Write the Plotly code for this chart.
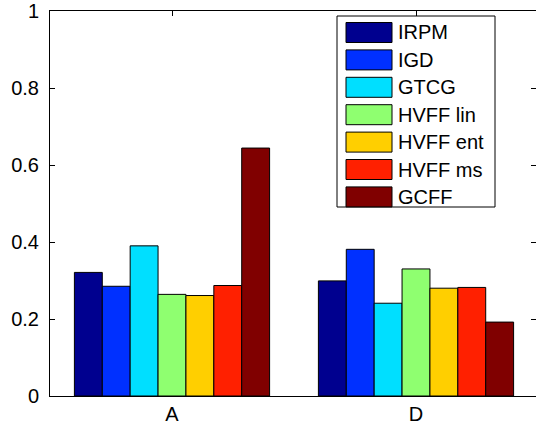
import plotly.graph_objects as go

categories = ["A", "D"]
series_names = ["IRPM", "IGD", "GTCG", "HVFF lin", "HVFF ent", "HVFF ms", "GCFF"]
values_A = [0.321, 0.285, 0.390, 0.264, 0.261, 0.287, 0.644]
values_D = [0.299, 0.381, 0.241, 0.330, 0.280, 0.282, 0.192]
colors = ["#00008F", "#0030FF", "#00DFFF", "#8FFF70", "#FFCF00", "#FF2000", "#800000"]
y_ticks = [0, 0.2, 0.4, 0.6, 0.8, 1]
y_tick_labels = ["0", "0.2", "0.4", "0.6", "0.8", "1"]

W, H = 536, 425
ML, MR, MT, MB = 50, 0, 11, 29
PW, PH = W - ML - MR, H - MT - MB
FONT = "Liberation Sans, Arial, Helvetica, sans-serif"

fig = go.Figure()
for i, name in enumerate(series_names):
    fig.add_trace(go.Bar(
        x=categories, y=[values_A[i], values_D[i]], name=name,
        marker=dict(color=colors[i], line=dict(color="black", width=1)),
        showlegend=False,
    ))

# custom MATLAB-style legend (pixel -> paper helpers)
def px(x):
    return (x - ML) / PW

def py(y):
    return 1 - (y - MT) / PH

shapes = [dict(type="rect", xref="paper", yref="paper",
               x0=px(337), x1=px(495), y0=py(16), y1=py(207),
               line=dict(color="black", width=1), fillcolor="white", layer="above")]
annotations = []
for i, name in enumerate(series_names):
    cy = 32.5 + i * 27.4
    shapes.append(dict(type="rect", xref="paper", yref="paper",
                       x0=px(346), x1=px(392), y0=py(cy + 10), y1=py(cy - 10),
                       line=dict(color="black", width=1), fillcolor=colors[i], layer="above"))
    annotations.append(dict(xref="paper", yref="paper", x=px(396), y=py(cy),
                            text=name, showarrow=False, xanchor="left", yanchor="middle",
                            font=dict(size=20, color="black", family=FONT)))

fig.update_layout(
    width=W, height=H,
    margin=dict(l=ML, r=MR, t=MT, b=MB, pad=0, autoexpand=False),
    paper_bgcolor="white", plot_bgcolor="white",
    barmode="group", bargap=0.2, bargroupgap=0,
    font=dict(family=FONT, size=20, color="black"),
    shapes=shapes, annotations=annotations,
    xaxis=dict(type="category", range=[-0.5, 1.5 - 2 / 244], automargin=False,
               showline=True, linecolor="black", linewidth=1, mirror="ticks",
               ticks="inside", ticklen=5, tickcolor="black", showgrid=False,
               zeroline=False, layer="below traces", ticklabelstandoff=0),
    yaxis=dict(range=[0, 1], tickvals=y_ticks, ticktext=y_tick_labels, automargin=False,
               showline=True, linecolor="black", linewidth=1, mirror="ticks",
               ticks="inside", ticklen=5, tickcolor="black", showgrid=False,
               zeroline=False, layer="below traces", ticklabelstandoff=6),
)

fig.write_html("out.html")
